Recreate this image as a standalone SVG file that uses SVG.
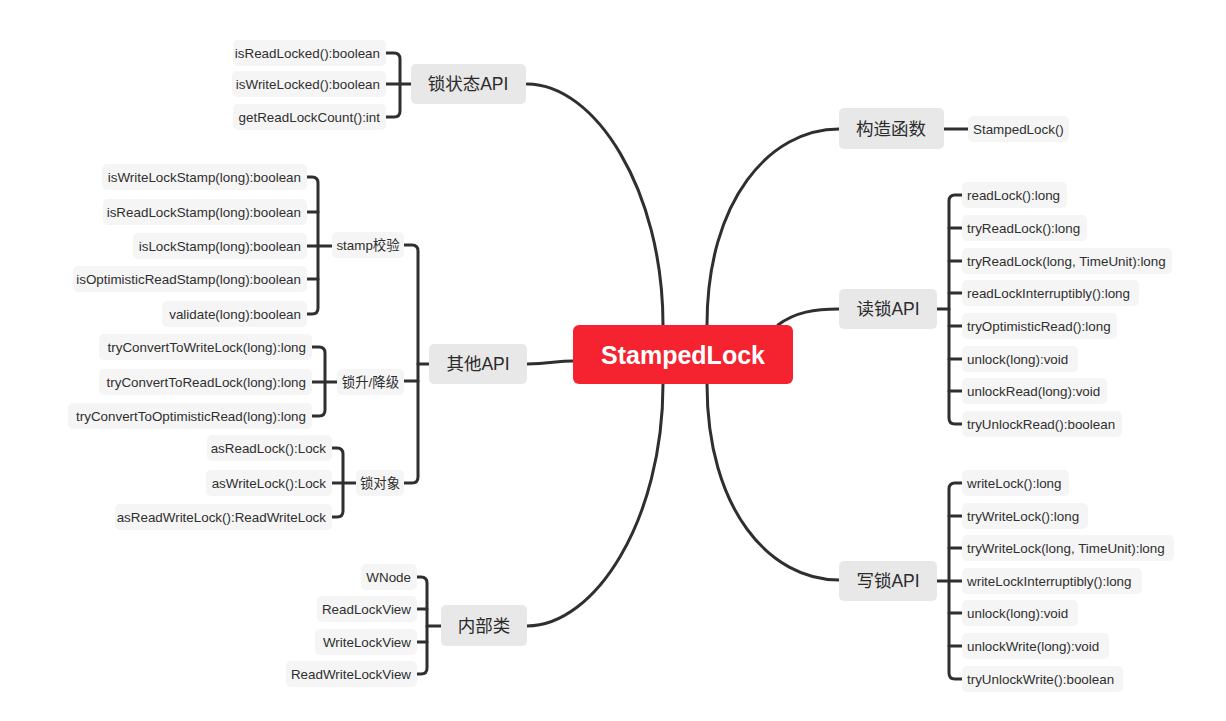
<svg xmlns="http://www.w3.org/2000/svg" width="1226" height="721" viewBox="0 0 1226 721">
<style>
.bg{fill:#ffffff}
.topic rect{fill:#E8E8E8}
.leaf rect{fill:#F5F5F5}
.topic text{font-family:"Liberation Sans","Noto Sans CJK SC",sans-serif;font-size:17.5px;fill:#2B2B2B;text-anchor:middle}
.leaf text{font-family:"Liberation Sans","Noto Sans CJK SC",sans-serif;font-size:13.4px;fill:#2F2F2F}
.l text{text-anchor:end}
.sub text{text-anchor:middle}
.conn path{fill:none;stroke:#2F2F2F;stroke-width:3;stroke-linecap:round}
</style>
<rect class="bg" x="0" y="0" width="1226" height="721"/>
<g class="conn" id="connectors">
<path d="M527,84 C595,84 663,190 663,325"/>
<path d="M527,626 C595,626 663,520 663,384"/>
<path d="M707,325 C707,200 770,129 839,129"/>
<path d="M778,325 C795,312 815,309 839,309"/>
<path d="M707,384 C707,510 770,580 839,580"/>
<path d="M527,364 C550,364 555,361 573,361"/>
<path d="M944,129 H968"/>
<path d="M386,53 H394 Q400,53 400,59 V111 Q400,117 394,117 H386"/>
<path d="M386,84 H411"/>
<path d="M404,245 H412 Q418,245 418,251 V477 Q418,483 412,483 H404"/>
<path d="M404,381 H418"/>
<path d="M418,364 H429"/>
<path d="M307,177 H312 Q318,177 318,183 V308 Q318,314 312,314 H307"/>
<path d="M307,212 H318 M307,279 H318 M307,246 H332"/>
<path d="M312,347 H319 Q325,347 325,353 V410 Q325,416 319,416 H312"/>
<path d="M312,382 H337"/>
<path d="M332,448 H337 Q343,448 343,454 V511 Q343,517 337,517 H332"/>
<path d="M332,483 H356"/>
<path d="M417,577 H421 Q427,577 427,583 V668 Q427,674 421,674 H417"/>
<path d="M417,609 H427 M417,642 H427 M427,626 H441"/>
<path d="M962,195 H955 Q949,195 949,201 V418 Q949,424 955,424 H962"/>
<path d="M949,228 H962 M949,261 H962 M949,293 H962 M949,326 H962 M949,359 H962 M949,391 H962"/>
<path d="M937,309 H949"/>
<path d="M962,483 H955 Q949,483 949,489 V673 Q949,679 955,679 H962"/>
<path d="M949,516 H962 M949,548 H962 M949,581 H962 M949,613 H962 M949,646 H962"/>
<path d="M937,581 H949"/>
</g>

<g id="center">
<rect x="573" y="325" width="220" height="59" rx="6" fill="#F5222F"/>
<text x="683" y="364" font-family="Liberation Sans, sans-serif" font-size="25" font-weight="bold" fill="#ffffff" text-anchor="middle">StampedLock</text>
</g>

<g id="t-lockstate" class="topic"><rect x="411" y="64" width="115" height="40" rx="5"/><text x="468" y="90">锁状态API</text></g>
<g id="t-ctor" class="topic"><rect x="839" y="108" width="105" height="41" rx="5"/><text x="891" y="135">构造函数</text></g>
<g id="t-read" class="topic"><rect x="839" y="289" width="98" height="40" rx="5"/><text x="888" y="315">读锁API</text></g>
<g id="t-other" class="topic"><rect x="429" y="344" width="98" height="40" rx="5"/><text x="478" y="370">其他API</text></g>
<g id="t-write" class="topic"><rect x="839" y="561" width="98" height="40" rx="5"/><text x="888" y="587">写锁API</text></g>
<g id="t-inner" class="topic"><rect x="441" y="605" width="86" height="41" rx="5"/><text x="484" y="632">内部类</text></g>

<g id="n-ctor1" class="leaf"><rect x="968" y="116" width="101" height="26" rx="5"/><text x="973" y="133.5">StampedLock()</text></g>

<g id="n-ls1" class="leaf l"><rect x="233" y="40" width="153" height="26" rx="5"/><text x="380" y="57.5">isReadLocked():boolean</text></g>
<g id="n-ls2" class="leaf l"><rect x="232" y="71" width="154" height="26" rx="5"/><text x="380" y="88.5">isWriteLocked():boolean</text></g>
<g id="n-ls3" class="leaf l"><rect x="233" y="104" width="153" height="26" rx="5"/><text x="380" y="121.5">getReadLockCount():int</text></g>

<g id="s-stamp" class="leaf sub"><rect x="332" y="232" width="72" height="26" rx="5"/><text x="368" y="249.5">stamp校验</text></g>
<g id="s-convert" class="leaf sub"><rect x="337" y="369" width="67" height="26" rx="5"/><text x="370.5" y="386.5">锁升/降级</text></g>
<g id="s-obj" class="leaf sub"><rect x="356" y="470" width="48" height="26" rx="5"/><text x="380" y="487.5">锁对象</text></g>

<g id="n-st1" class="leaf l"><rect x="102" y="164" width="205" height="26" rx="5"/><text x="301" y="181.5">isWriteLockStamp(long):boolean</text></g>
<g id="n-st2" class="leaf l"><rect x="103" y="199" width="204" height="26" rx="5"/><text x="301" y="216.5">isReadLockStamp(long):boolean</text></g>
<g id="n-st3" class="leaf l"><rect x="133" y="233" width="174" height="26" rx="5"/><text x="301" y="250.5">isLockStamp(long):boolean</text></g>
<g id="n-st4" class="leaf l"><rect x="73" y="266" width="234" height="26" rx="5"/><text x="301" y="283.5">isOptimisticReadStamp(long):boolean</text></g>
<g id="n-st5" class="leaf l"><rect x="162" y="301" width="145" height="26" rx="5"/><text x="301" y="318.5">validate(long):boolean</text></g>

<g id="n-cv1" class="leaf l"><rect x="99" y="334" width="213" height="26" rx="5"/><text x="306" y="351.5">tryConvertToWriteLock(long):long</text></g>
<g id="n-cv2" class="leaf l"><rect x="99" y="369" width="213" height="26" rx="5"/><text x="306" y="386.5">tryConvertToReadLock(long):long</text></g>
<g id="n-cv3" class="leaf l"><rect x="68" y="403" width="244" height="26" rx="5"/><text x="306" y="420.5">tryConvertToOptimisticRead(long):long</text></g>

<g id="n-ob1" class="leaf l"><rect x="207" y="435" width="125" height="26" rx="5"/><text x="326" y="452.5">asReadLock():Lock</text></g>
<g id="n-ob2" class="leaf l"><rect x="206" y="470" width="126" height="26" rx="5"/><text x="326" y="487.5">asWriteLock():Lock</text></g>
<g id="n-ob3" class="leaf l"><rect x="115" y="504" width="217" height="26" rx="5"/><text x="326" y="521.5">asReadWriteLock():ReadWriteLock</text></g>

<g id="n-in1" class="leaf l"><rect x="361" y="564" width="56" height="26" rx="5"/><text x="411" y="581.5">WNode</text></g>
<g id="n-in2" class="leaf l"><rect x="317" y="596" width="100" height="26" rx="5"/><text x="411" y="613.5">ReadLockView</text></g>
<g id="n-in3" class="leaf l"><rect x="315" y="629" width="102" height="26" rx="5"/><text x="411" y="646.5">WriteLockView</text></g>
<g id="n-in4" class="leaf l"><rect x="286" y="661" width="131" height="26" rx="5"/><text x="411" y="678.5">ReadWriteLockView</text></g>

<g id="n-rd1" class="leaf"><rect x="962" y="182" width="105" height="26" rx="5"/><text x="967" y="199.5">readLock():long</text></g>
<g id="n-rd2" class="leaf"><rect x="962" y="215" width="125" height="26" rx="5"/><text x="967" y="232.5">tryReadLock():long</text></g>
<g id="n-rd3" class="leaf"><rect x="962" y="248" width="210" height="26" rx="5"/><text x="967" y="265.5">tryReadLock(long, TimeUnit):long</text></g>
<g id="n-rd4" class="leaf"><rect x="962" y="280" width="177" height="26" rx="5"/><text x="967" y="297.5">readLockInterruptibly():long</text></g>
<g id="n-rd5" class="leaf"><rect x="962" y="313" width="155" height="26" rx="5"/><text x="967" y="330.5">tryOptimisticRead():long</text></g>
<g id="n-rd6" class="leaf"><rect x="962" y="346" width="116" height="26" rx="5"/><text x="967" y="363.5">unlock(long):void</text></g>
<g id="n-rd7" class="leaf"><rect x="962" y="378" width="145" height="26" rx="5"/><text x="967" y="395.5">unlockRead(long):void</text></g>
<g id="n-rd8" class="leaf"><rect x="962" y="411" width="160" height="26" rx="5"/><text x="967" y="428.5">tryUnlockRead():boolean</text></g>

<g id="n-wr1" class="leaf"><rect x="962" y="470" width="107" height="26" rx="5"/><text x="967" y="487.5">writeLock():long</text></g>
<g id="n-wr2" class="leaf"><rect x="962" y="503" width="126" height="26" rx="5"/><text x="967" y="520.5">tryWriteLock():long</text></g>
<g id="n-wr3" class="leaf"><rect x="962" y="535" width="212" height="26" rx="5"/><text x="967" y="552.5">tryWriteLock(long, TimeUnit):long</text></g>
<g id="n-wr4" class="leaf"><rect x="962" y="568" width="180" height="26" rx="5"/><text x="967" y="585.5">writeLockInterruptibly():long</text></g>
<g id="n-wr5" class="leaf"><rect x="962" y="600" width="116" height="26" rx="5"/><text x="967" y="617.5">unlock(long):void</text></g>
<g id="n-wr6" class="leaf"><rect x="962" y="633" width="147" height="26" rx="5"/><text x="967" y="650.5">unlockWrite(long):void</text></g>
<g id="n-wr7" class="leaf"><rect x="962" y="666" width="161" height="26" rx="5"/><text x="967" y="683.5">tryUnlockWrite():boolean</text></g>
</svg>
